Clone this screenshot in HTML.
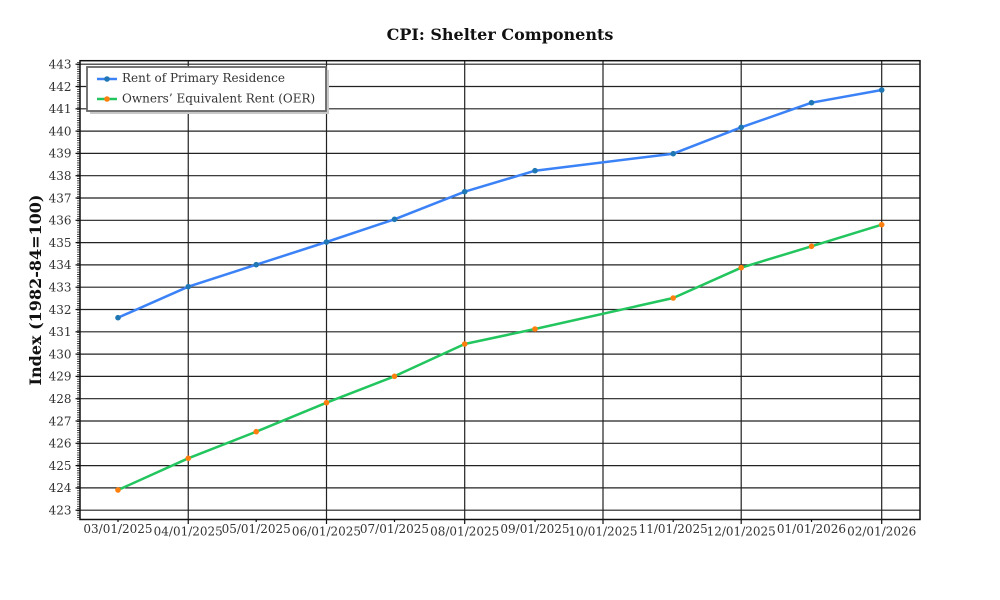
<!DOCTYPE html>
<html>
<head>
<meta charset="utf-8">
<style>
  html, body { margin: 0; padding: 0; background: #ffffff; }
  svg { display: block; }
  text { font-family: "DejaVu Serif", "Liberation Serif", serif; }
</style>
</head>
<body>
<svg width="1000" height="600" viewBox="0 0 1000 600" xmlns="http://www.w3.org/2000/svg">
  <rect x="0" y="0" width="1000" height="600" fill="#ffffff"/>

  <!-- Title -->
  <text x="500" y="40" text-anchor="middle" font-size="16" font-weight="bold" fill="#111">CPI: Shelter Components</text>

  <!-- Y label -->
  <text transform="translate(41,290) rotate(-90)" text-anchor="middle" font-size="16" font-weight="bold" fill="#111">Index (1982-84=100)</text>

  <!-- Horizontal gridlines (423..443) -->
  <g stroke="#222" stroke-width="1.2">
    <line x1="80" x2="920" y1="64.2" y2="64.2"/>
    <line x1="80" x2="920" y1="86.5" y2="86.5"/>
    <line x1="80" x2="920" y1="108.8" y2="108.8"/>
    <line x1="80" x2="920" y1="131.1" y2="131.1"/>
    <line x1="80" x2="920" y1="153.4" y2="153.4"/>
    <line x1="80" x2="920" y1="175.7" y2="175.7"/>
    <line x1="80" x2="920" y1="198.0" y2="198.0"/>
    <line x1="80" x2="920" y1="220.3" y2="220.3"/>
    <line x1="80" x2="920" y1="242.6" y2="242.6"/>
    <line x1="80" x2="920" y1="264.9" y2="264.9"/>
    <line x1="80" x2="920" y1="287.2" y2="287.2"/>
    <line x1="80" x2="920" y1="309.5" y2="309.5"/>
    <line x1="80" x2="920" y1="331.8" y2="331.8"/>
    <line x1="80" x2="920" y1="354.1" y2="354.1"/>
    <line x1="80" x2="920" y1="376.4" y2="376.4"/>
    <line x1="80" x2="920" y1="398.7" y2="398.7"/>
    <line x1="80" x2="920" y1="421.0" y2="421.0"/>
    <line x1="80" x2="920" y1="443.3" y2="443.3"/>
    <line x1="80" x2="920" y1="465.6" y2="465.6"/>
    <line x1="80" x2="920" y1="487.9" y2="487.9"/>
    <line x1="80" x2="920" y1="510.2" y2="510.2"/>
  </g>

  <!-- Vertical gridlines at major ticks -->
  <g stroke="#222" stroke-width="1.2">
    <line x1="188.25" x2="188.25" y1="60.7" y2="519.5"/>
    <line x1="326.5" x2="326.5" y1="60.7" y2="519.5"/>
    <line x1="464.7" x2="464.7" y1="60.7" y2="519.5"/>
    <line x1="603.0" x2="603.0" y1="60.7" y2="519.5"/>
    <line x1="741.2" x2="741.2" y1="60.7" y2="519.5"/>
    <line x1="881.7" x2="881.7" y1="60.7" y2="519.5"/>
  </g>

  <!-- Y minor ticks (dash simulation) -->
  <line x1="78.5" x2="78.5" y1="60.7" y2="519.5" stroke="#222" stroke-width="3" stroke-dasharray="0.8 1.43" stroke-dashoffset="-1.5"/>

  <!-- Y major ticks -->
  <g stroke="#111" stroke-width="1.2">
    <line x1="75.5" x2="80" y1="64.2" y2="64.2"/>
    <line x1="75.5" x2="80" y1="86.5" y2="86.5"/>
    <line x1="75.5" x2="80" y1="108.8" y2="108.8"/>
    <line x1="75.5" x2="80" y1="131.1" y2="131.1"/>
    <line x1="75.5" x2="80" y1="153.4" y2="153.4"/>
    <line x1="75.5" x2="80" y1="175.7" y2="175.7"/>
    <line x1="75.5" x2="80" y1="198.0" y2="198.0"/>
    <line x1="75.5" x2="80" y1="220.3" y2="220.3"/>
    <line x1="75.5" x2="80" y1="242.6" y2="242.6"/>
    <line x1="75.5" x2="80" y1="264.9" y2="264.9"/>
    <line x1="75.5" x2="80" y1="287.2" y2="287.2"/>
    <line x1="75.5" x2="80" y1="309.5" y2="309.5"/>
    <line x1="75.5" x2="80" y1="331.8" y2="331.8"/>
    <line x1="75.5" x2="80" y1="354.1" y2="354.1"/>
    <line x1="75.5" x2="80" y1="376.4" y2="376.4"/>
    <line x1="75.5" x2="80" y1="398.7" y2="398.7"/>
    <line x1="75.5" x2="80" y1="421.0" y2="421.0"/>
    <line x1="75.5" x2="80" y1="443.3" y2="443.3"/>
    <line x1="75.5" x2="80" y1="465.6" y2="465.6"/>
    <line x1="75.5" x2="80" y1="487.9" y2="487.9"/>
    <line x1="75.5" x2="80" y1="510.2" y2="510.2"/>
  </g>

  <!-- Y tick labels -->
  <g font-size="12" fill="#333" text-anchor="end">
    <text x="71.5" y="68.5">443</text>
    <text x="71.5" y="90.8">442</text>
    <text x="71.5" y="113.1">441</text>
    <text x="71.5" y="135.4">440</text>
    <text x="71.5" y="157.7">439</text>
    <text x="71.5" y="180.0">438</text>
    <text x="71.5" y="202.3">437</text>
    <text x="71.5" y="224.6">436</text>
    <text x="71.5" y="246.9">435</text>
    <text x="71.5" y="269.2">434</text>
    <text x="71.5" y="291.5">433</text>
    <text x="71.5" y="313.8">432</text>
    <text x="71.5" y="336.1">431</text>
    <text x="71.5" y="358.4">430</text>
    <text x="71.5" y="380.7">429</text>
    <text x="71.5" y="403.0">428</text>
    <text x="71.5" y="425.3">427</text>
    <text x="71.5" y="447.6">426</text>
    <text x="71.5" y="469.9">425</text>
    <text x="71.5" y="492.2">424</text>
    <text x="71.5" y="514.5">423</text>
  </g>

  <!-- X ticks -->
  <g stroke="#111" stroke-width="1.2">
    <line x1="188.25" x2="188.25" y1="519.5" y2="524"/>
    <line x1="326.5" x2="326.5" y1="519.5" y2="524"/>
    <line x1="464.7" x2="464.7" y1="519.5" y2="524"/>
    <line x1="603.0" x2="603.0" y1="519.5" y2="524"/>
    <line x1="741.2" x2="741.2" y1="519.5" y2="524"/>
    <line x1="881.7" x2="881.7" y1="519.5" y2="524"/>
    <line x1="118" x2="118" y1="519.5" y2="522"/>
    <line x1="256.2" x2="256.2" y1="519.5" y2="522"/>
    <line x1="394.5" x2="394.5" y1="519.5" y2="522"/>
    <line x1="535.0" x2="535.0" y1="519.5" y2="522"/>
    <line x1="673.2" x2="673.2" y1="519.5" y2="522"/>
    <line x1="811.5" x2="811.5" y1="519.5" y2="522"/>
  </g>

  <!-- X tick labels -->
  <g font-size="12" fill="#333" text-anchor="middle">
    <text x="118" y="533">03/01/2025</text>
    <text x="188.25" y="535.5">04/01/2025</text>
    <text x="256.2" y="533">05/01/2025</text>
    <text x="326.5" y="535.5">06/01/2025</text>
    <text x="394.5" y="533">07/01/2025</text>
    <text x="464.7" y="535.5">08/01/2025</text>
    <text x="535.0" y="533">09/01/2025</text>
    <text x="603.0" y="535.5">10/01/2025</text>
    <text x="673.2" y="533">11/01/2025</text>
    <text x="741.2" y="535.5">12/01/2025</text>
    <text x="811.5" y="533">01/01/2026</text>
    <text x="881.7" y="535.5">02/01/2026</text>
  </g>

  <!-- Series: Rent of Primary Residence -->
  <polyline fill="none" stroke="#3b82f6" stroke-width="2.5" stroke-linejoin="round" stroke-linecap="round"
    points="118,317.7 188.25,286.7 256.2,264.7 326.5,242 394.5,219.3 464.7,191.7 535,170.7 673.2,153.7 741.2,127.3 811.5,102.7 881.7,90"/>
  <g fill="#1f77b4">
    <circle cx="118" cy="317.7" r="2.8"/>
    <circle cx="188.25" cy="286.7" r="2.8"/>
    <circle cx="256.2" cy="264.7" r="2.8"/>
    <circle cx="326.5" cy="242" r="2.8"/>
    <circle cx="394.5" cy="219.3" r="2.8"/>
    <circle cx="464.7" cy="191.7" r="2.8"/>
    <circle cx="535" cy="170.7" r="2.8"/>
    <circle cx="673.2" cy="153.7" r="2.8"/>
    <circle cx="741.2" cy="127.3" r="2.8"/>
    <circle cx="811.5" cy="102.7" r="2.8"/>
    <circle cx="881.7" cy="90" r="2.8"/>
  </g>

  <!-- Series: OER -->
  <polyline fill="none" stroke="#22c55e" stroke-width="2.5" stroke-linejoin="round" stroke-linecap="round"
    points="118,490 188.25,458.3 256.2,431.7 326.5,402.7 394.5,376.3 464.7,344 535,329 673.2,298 741.2,267.7 811.5,246.3 881.7,224.7"/>
  <g fill="#ff7f0e">
    <circle cx="118" cy="490" r="2.8"/>
    <circle cx="188.25" cy="458.3" r="2.8"/>
    <circle cx="256.2" cy="431.7" r="2.8"/>
    <circle cx="326.5" cy="402.7" r="2.8"/>
    <circle cx="394.5" cy="376.3" r="2.8"/>
    <circle cx="464.7" cy="344" r="2.8"/>
    <circle cx="535" cy="329" r="2.8"/>
    <circle cx="673.2" cy="298" r="2.8"/>
    <circle cx="741.2" cy="267.7" r="2.8"/>
    <circle cx="811.5" cy="246.3" r="2.8"/>
    <circle cx="881.7" cy="224.7" r="2.8"/>
  </g>

  <!-- Axes frame -->
  <rect x="80" y="60.7" width="840" height="458.8" fill="none" stroke="#111" stroke-width="1.5"/>

  <!-- Legend -->
  <rect x="90" y="70" width="239" height="44" fill="#c8c8c8"/>
  <rect x="87" y="67" width="239" height="44" fill="#ffffff" stroke="#666" stroke-width="1.8"/>
  <line x1="97" x2="117" y1="79" y2="79" stroke="#3b82f6" stroke-width="2.5"/>
  <circle cx="107" cy="79" r="2.8" fill="#1f77b4"/>
  <text x="122" y="82" font-size="12" fill="#333">Rent of Primary Residence</text>
  <line x1="97" x2="117" y1="99" y2="99" stroke="#22c55e" stroke-width="2.5"/>
  <circle cx="107" cy="99" r="2.8" fill="#ff7f0e"/>
  <text x="122" y="102.3" font-size="12" fill="#333">Owners’ Equivalent Rent (OER)</text>
</svg>
</body>
</html>
